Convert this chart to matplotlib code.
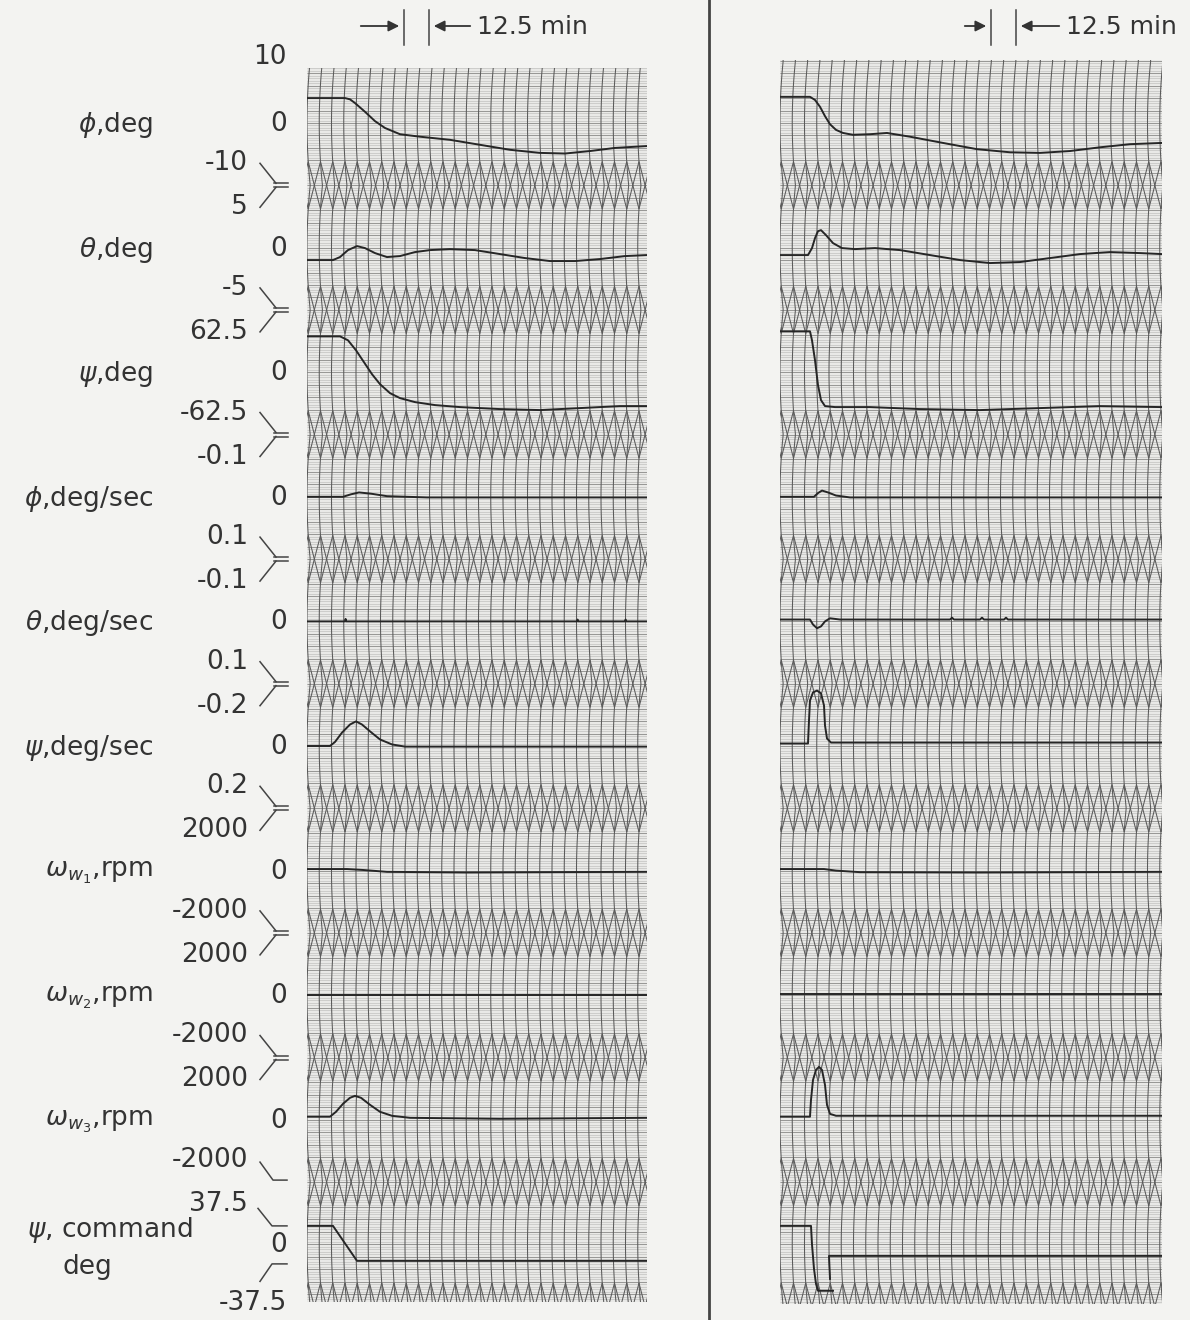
import numpy as np
import matplotlib
matplotlib.use("Agg")
import matplotlib.pyplot as plt
from matplotlib.collections import LineCollection
from matplotlib.lines import Line2D
from matplotlib.patches import FancyArrowPatch

plt.rcParams["font.family"] = ["DejaVu Sans"]
plt.rcParams["mathtext.fontset"] = "dejavusans"

# ---------------------------------------------------------------- channels
channel_names = [r"$\phi$,deg", r"$\theta$,deg", r"$\psi$,deg",
                 r"$\phi$,deg/sec", r"$\theta$,deg/sec", r"$\psi$,deg/sec",
                 r"$\omega_{w_1}$,rpm", r"$\omega_{w_2}$,rpm", r"$\omega_{w_3}$,rpm",
                 r"$\psi$, command"]
command_unit = "deg"
top_labels = ["10", "5", "62.5", "-0.1", "-0.1", "-0.2", "2000", "2000", "2000", "37.5"]
bottom_labels = ["-10", "-5", "-62.5", "0.1", "0.1", "0.2", "-2000", "-2000", "-2000", "-37.5"]
# value written at the upper edge of each channel (negative = reversed polarity)
channel_scale = [10, 5, 62.5, -0.1, -0.1, -0.2, 2000, 2000, 2000, 37.5]
time_mark = "12.5 min"

NAN = np.nan

# ---------------------------------------------------------------- left record (time, min)
L_phi_t = [0, 19, 21.5, 24, 29, 34, 39, 46.5, 56.5, 71.5, 86.5, 101.5, 116.5, 129, 141.5, 154, 170]
L_phi_v = [4.0, 4.0, 3.8, 3.2, 1.8, 0.3, -0.8, -1.8, -2.2, -2.7, -3.5, -4.3, -4.8, -4.9, -4.5, -4.0, -3.7]
L_theta_t = [0, 13, 16.5, 20.5, 25, 29, 34, 40, 46.5, 54, 61.5, 71.5, 84, 96.5, 109, 121.5, 134, 146.5, 159, 170]
L_theta_v = [-1.0, -1.0, -0.76, -0.2, 0.12, -0.04, -0.44, -0.76, -0.68, -0.36, -0.2, -0.12, -0.2,
             -0.52, -0.84, -1.08, -1.08, -0.92, -0.68, -0.6]
L_psi_t = [0, 16.5, 20.5, 24.5, 28.5, 32.5, 36.5, 41.5, 46.5, 54, 64, 76.5, 96.5, 116.5, 136.5, 156.5, 170]
L_psi_v = [36, 36, 32, 22, 10, -2, -12, -21, -26, -30, -33, -35, -37, -38, -36, -34, -34]
L_phidot_t = [0, 18, 22, 26, 32, 40, 60, 170]
L_phidot_v = [0, 0, -0.004, -0.007, -0.005, -0.001, 0.001, 0.001]
L_thetadot_t = [0, 19, 19.3, 19.6, 135, 135.3, 135.6, 159, 159.3, 159.6, 170]
L_thetadot_v = [0, 0, -0.004, 0, 0, -0.003, 0, 0, -0.003, 0, 0]
L_psidot_t = [0, 11.5, 14, 17.5, 21.5, 24.5, 27.5, 31.5, 36.5, 42.5, 49, 170]
L_psidot_v = [0, 0, -0.013, -0.043, -0.069, -0.079, -0.069, -0.047, -0.021, -0.005, 0.002, 0.002]
L_ww1_t = [0, 20, 28, 40, 80, 120, 170]
L_ww1_v = [50, 50, 20, -40, -60, -50, -40]
L_ww2_t = [0, 170]
L_ww2_v = [0, 0]
L_ww3_t = [0, 11.5, 14.5, 18, 21.5, 24, 27, 31.5, 36.5, 42.5, 51.5, 96.5, 170]
L_ww3_v = [100, 100, 257, 514, 706, 770, 706, 481, 257, 128, 64, 32, 64]
L_cmd_t = [0, 13, 25, 170]
L_cmd_v = [37.5, 37.5, -33.4, -33.4]

# ---------------------------------------------------------------- right record (time, min)
R_phi_t = [0, 15, 17.5, 20, 22.5, 25, 28, 31.5, 36.5, 45, 53.5, 65, 81.5, 98.5, 115, 130, 145, 160, 175, 191]
R_phi_v = [4.2, 4.2, 3.7, 2.6, 1.1, -0.2, -1.1, -1.6, -1.9, -1.8, -1.6, -2.2, -3.2, -4.2, -4.7, -4.8,
           -4.5, -3.9, -3.4, -3.2]
R_theta_t = [0, 14, 16, 17.5, 19, 20.5, 23, 26.5, 31, 37.5, 47.5, 60, 75, 90, 105, 120, 135, 150, 165, 180, 191]
R_theta_v = [-0.6, -0.6, -0.04, 0.76, 1.32, 1.4, 1.0, 0.36, -0.04, -0.12, -0.04, -0.2, -0.6, -1.0,
             -1.24, -1.16, -0.84, -0.52, -0.36, -0.44, -0.52]
R_psi_t = [0, 15, 16, 17.5, 19, 20.5, 22.5, 27.5, 45, 70, 100, 130, 160, 191]
R_psi_v = [41, 41, 32, 12, -13, -28, -34, -35, -35, -37, -38, -36, -34, -35]
R_phidot_t = [0, 17, 19, 21, 24, 28, 35, 191]
R_phidot_v = [0, 0, -0.006, -0.01, -0.007, -0.002, 0.001, 0.001]
R_thetadot_t = [0, 15, 16.5, 18.5, 20.5, 22.5, 25, 30, 85, 86, 87, 100, 101, 102, 112, 113, 114, 191]
R_thetadot_v = [-0.003, -0.003, 0.005, 0.011, 0.008, 0, -0.005, -0.003, -0.003, -0.006, -0.003,
                -0.003, -0.006, -0.003, -0.003, -0.006, -0.003, -0.003]
R_psidot_t = [0, 14, 14.5, 15, 16.5, 18.5, 20.5, 22, 22.5, 23.5, 25.5, 191]
R_psidot_v = [-0.008, -0.008, -0.082, -0.146, -0.172, -0.178, -0.169, -0.13, -0.066, -0.024, -0.011, -0.011]
R_ww1_t = [0, 22, 28, 40, 100, 191]
R_ww1_v = [50, 50, 0, -50, -60, -40]
R_ww2_t = [0, 191]
R_ww2_v = [30, 30]
R_ww3_t = [0, 15, 15.5, 16.5, 18, 19.5, 21, 22.5, 23.5, 25, 28, 191]
R_ww3_v = [100, 100, 640, 1280, 1600, 1700, 1600, 1120, 480, 190, 130, 130]
R_cmd_t = [0, 15.5, 16, 17, 18, 19, 26.5, NAN, 25, 24.5, 191]
R_cmd_v = [37.5, 37.5, 0, -49.6, -80, -94, -94, NAN, -70, -23.3, -23.3]

left_traces = [(L_phi_t, L_phi_v), (L_theta_t, L_theta_v), (L_psi_t, L_psi_v),
               (L_phidot_t, L_phidot_v), (L_thetadot_t, L_thetadot_v), (L_psidot_t, L_psidot_v),
               (L_ww1_t, L_ww1_v), (L_ww2_t, L_ww2_v), (L_ww3_t, L_ww3_v), (L_cmd_t, L_cmd_v)]
right_traces = [(R_phi_t, R_phi_v), (R_theta_t, R_theta_v), (R_psi_t, R_psi_v),
                (R_phidot_t, R_phidot_v), (R_thetadot_t, R_thetadot_v), (R_psidot_t, R_psidot_v),
                (R_ww1_t, R_ww1_v), (R_ww2_t, R_ww2_v), (R_ww3_t, R_ww3_v), (R_cmd_t, R_cmd_v)]

# ---------------------------------------------------------------- layout (pixels)
W, H = 1190, 1320
PX_PER_MIN = 2.0
CH0_Y = 123.0          # centre of first channel
CH_PITCH = 124.6       # channel pitch
HALF = CH_PITCH / 2
DIV = CH_PITCH / 10    # major chart division
CMD_HALF = 18.5        # +-37.5 deg command occupies a narrower band
GRID_MIN = 6.125       # vertical ruling interval, minutes
BOW_MIN = 1.6          # bow of the arc rulings, minutes
ZZ_HALF = 1.9          # half height of cross-hatched band, divisions

PAPER = "#e9e9e7"
INK = "#262626"
RULE = "#5a5a5a"

fig = plt.figure(figsize=(W / 100, H / 100), dpi=100)
fig.patch.set_facecolor("#f3f3f1")


def frac(x, y):
    return x / W, 1 - y / H


def rect(x0, y0, x1, y1):
    return [x0 / W, 1 - y1 / H, (x1 - x0) / W, (y1 - y0) / H]


def bow(d):
    r = (np.mod(d + 5, 10) - 5) / 5.0
    return BOW_MIN * r ** 2


def draw_paper(x0, x1, y0, y1):
    ax = fig.add_axes(rect(x0, y0, x1, y1))
    width = (x1 - x0) / PX_PER_MIN
    d_top = (y0 - CH0_Y) / DIV
    d_bot = (y1 - CH0_Y) / DIV
    ax.set_xlim(0, width)
    ax.set_ylim(d_bot, d_top)
    ax.set_axis_off()
    ax.add_patch(plt.Rectangle((0, d_top), width, d_bot - d_top, facecolor=PAPER,
                               edgecolor="none", zorder=0))
    # horizontal rulings
    fine = np.arange(np.ceil(d_top * 5) / 5, d_bot, 0.2)
    ax.add_collection(LineCollection([[(0, d), (width, d)] for d in fine],
                                     colors="#bdbdbb", linewidths=0.45, zorder=1))
    major = np.arange(np.ceil(d_top), d_bot, 1.0)
    ax.add_collection(LineCollection([[(0, d), (width, d)] for d in major],
                                     colors="#8e8e8c", linewidths=0.6, zorder=1))
    # arc-shaped time rulings
    dd = np.linspace(d_top, d_bot, 600)
    xs = np.arange(-1, int(width / GRID_MIN) + 2) * GRID_MIN
    ax.add_collection(LineCollection([np.column_stack([x + bow(dd), dd]) for x in xs],
                                     colors=RULE, linewidths=0.75, zorder=2))
    # cross-hatched bands between channels
    segs = []
    for c in np.arange(5, 100, 10):
        a, b = c - ZZ_HALF, c + ZZ_HALF
        if a > d_bot:
            continue
        for x in xs[:-1]:
            xn = x + GRID_MIN
            segs.append([(x + bow(a), a), (xn + bow(b), b)])
            segs.append([(x + bow(b), b), (xn + bow(a), a)])
    ax.add_collection(LineCollection(segs, colors=RULE, linewidths=0.75, zorder=2))
    return width


def draw_traces(x0, x1, traces, width):
    for k, ((t, v), s) in enumerate(zip(traces, channel_scale)):
        yc = CH0_Y + k * CH_PITCH
        ax = fig.add_axes(rect(x0, yc - HALF, x1, yc + HALF))
        ax.patch.set_alpha(0)
        ax.set_axis_off()
        span = s * (HALF / CMD_HALF if k == len(traces) - 1 else 1.0)
        ax.set_xlim(0, width)
        ax.set_ylim(-span, span)
        ax.plot(t, v, color=INK, lw=1.4, solid_joinstyle="round", zorder=5)


panels = [(307, 647, 68, 1302, left_traces), (780, 1162, 60, 1304, right_traces)]
for x0, x1, y0, y1, tr in panels:
    w = draw_paper(x0, x1, y0, y1)
    draw_traces(x0, x1, tr, w)

# ---------------------------------------------------------------- scale annotations
TXT = dict(color="#333333", fontsize=19)


def put(x, y, s, ha="right", **kw):
    fx, fy = frac(x, y)
    fig.text(fx, fy, s, ha=ha, va="center", **{**TXT, **kw})


def line(pts, lw=1.1):
    xs = [p[0] / W for p in pts]
    ys = [1 - p[1] / H for p in pts]
    fig.add_artist(Line2D(xs, ys, color="#444444", lw=lw))


n = len(channel_names)
for k in range(n):
    yc = CH0_Y + k * CH_PITCH
    if k < n - 1:
        put(153, yc + 2, channel_names[k])
    put(287, yc + 1, "0")
ycmd = CH0_Y + (n - 1) * CH_PITCH
put(27, ycmd - 14, channel_names[-1], ha="left")
put(62, ycmd + 23, command_unit, ha="left")

put(287, 57, top_labels[0])
for k in range(n - 1):
    b = CH0_Y + k * CH_PITCH + HALF
    put(248, b - 22, bottom_labels[k])
    put(248, b + 22, top_labels[k + 1])
    if k < n - 2:
        line([(260, b - 22), (276, b - 2)])
        line([(276, b + 2), (260, b + 22)])
        line([(274, b - 2), (288, b - 2)])
        line([(274, b + 2), (288, b + 2)])
    else:
        line([(260, b - 20), (273, b - 2), (287, b - 2)])
put(287, 1303, bottom_labels[-1])
line([(258, ycmd - 36), (272, ycmd - CMD_HALF), (287, ycmd - CMD_HALF)])
line([(260, ycmd + 37), (272, ycmd + CMD_HALF + 1), (287, ycmd + CMD_HALF + 1)])

# ---------------------------------------------------------------- time marker
for bar1, a0, bar2, a1, tx in [(404, 358, 429, 473, 477), (991, 962, 1016, 1062, 1066)]:
    line([(bar1, 10), (bar1, 45)])
    line([(bar2, 10), (bar2, 45)])
    for s, e in [(a0, bar1 - 2), (a1, bar2 + 2)]:
        fig.add_artist(FancyArrowPatch(frac(s, 26), frac(e, 26), transform=fig.transFigure,
                                       arrowstyle="-|>", mutation_scale=16, color="#333333", lw=1.3))
    put(tx, 27, time_mark, ha="left", fontsize=18)

# panel divider
line([(709, 0), (709, H)], lw=2.0)

fig.savefig("out.png", dpi=100, facecolor=fig.get_facecolor())
